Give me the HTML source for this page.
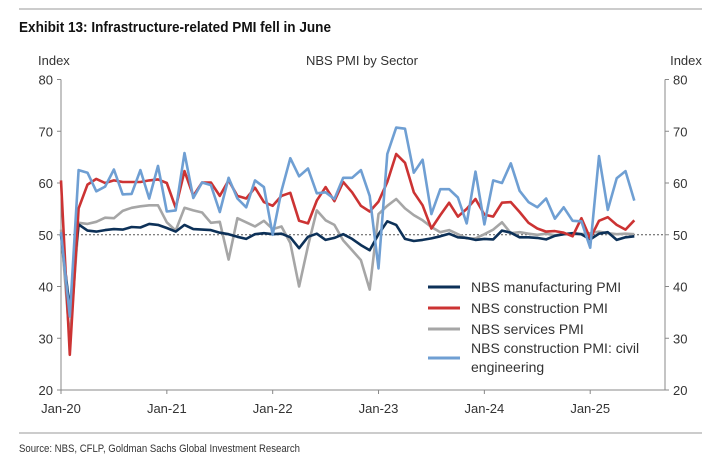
<!DOCTYPE html>
<html><head><meta charset="utf-8"><style>
html,body{margin:0;padding:0;background:#fff;width:720px;height:460px;overflow:hidden}
svg{display:block;font-family:"Liberation Sans",Arial,sans-serif}
</style></head><body>
<svg id="c" width="720" height="460" viewBox="0 0 720 460">
<line x1="19" y1="9" x2="702" y2="9" stroke="#999" stroke-width="1"/>
<text x="19" y="32" font-size="14.5" font-weight="bold" fill="#111" textLength="312" lengthAdjust="spacingAndGlyphs">Exhibit 13: Infrastructure-related PMI fell in June</text>
<text x="38" y="65" font-size="13" fill="#333">Index</text>
<text x="686" y="65" font-size="13" fill="#333" text-anchor="middle">Index</text>
<text x="362" y="65" font-size="13" fill="#333" text-anchor="middle">NBS PMI by Sector</text>
<g id="axes"></g>
<g id="series"></g>
<g id="legend"></g>
<line x1="19" y1="433" x2="702" y2="433" stroke="#999" stroke-width="1"/>
<text x="19" y="452" font-size="11" fill="#333" textLength="281" lengthAdjust="spacingAndGlyphs">Source: NBS, CFLP, Goldman Sachs Global Investment Research</text>
</svg>
<script>
const yTicks=[20,30,40,50,60,70,80];
const xTickLabels=["Jan-20","Jan-21","Jan-22","Jan-23","Jan-24","Jan-25"];
const xTickMonths=[0,12,24,36,48,60];
const manufacturing=[50.0,35.7,52.0,50.8,50.6,50.9,51.1,51.0,51.5,51.4,52.1,51.9,51.3,50.6,51.9,51.1,51.0,50.9,50.4,50.1,49.6,49.2,50.1,50.3,50.1,50.2,49.5,47.4,49.6,50.2,49.0,49.4,50.1,49.2,48.0,47.0,50.1,52.6,51.9,49.2,48.8,49.0,49.3,49.7,50.2,49.5,49.4,49.0,49.2,49.1,50.8,50.4,49.5,49.5,49.4,49.1,49.8,50.1,50.3,50.1,49.1,50.2,50.5,49.0,49.5,49.7];
const construction=[60.5,26.8,55.1,59.7,60.8,60.0,60.5,60.2,60.2,60.2,60.5,60.7,60.0,55.2,62.3,57.5,60.1,60.1,57.5,60.5,57.5,57.0,59.1,56.3,55.6,57.5,58.1,52.7,52.2,56.6,59.2,56.5,60.2,58.2,55.6,54.5,56.4,60.2,65.6,63.9,58.2,55.7,51.2,53.8,56.2,53.5,55.0,56.9,53.9,53.5,56.2,56.3,54.4,52.3,51.2,50.6,50.7,50.4,49.7,53.2,49.3,52.7,53.4,51.9,51.0,52.8];
const services=[51.0,29.6,52.3,52.1,52.5,53.3,53.2,54.6,55.2,55.5,55.7,55.7,52.4,50.8,55.2,54.7,54.3,52.3,52.5,45.2,53.2,52.4,51.6,52.7,51.1,51.6,48.4,40.0,47.8,54.7,52.8,51.9,48.9,47.0,45.1,39.4,54.0,55.6,56.9,55.1,53.8,52.8,51.5,50.5,50.9,50.1,49.3,49.3,50.1,51.0,52.4,50.3,50.5,50.2,50.0,50.2,49.9,50.1,50.1,50.1,50.3,50.6,50.3,50.1,50.2,50.1];
const civilEng=[50.5,34.2,62.5,62.0,58.4,59.3,62.6,57.8,57.9,62.5,57.0,63.3,54.5,54.7,65.8,57.1,60.1,59.6,54.4,61.0,57.0,55.3,60.5,59.2,50.0,58.5,64.8,61.3,62.8,58.0,58.2,56.9,61.0,61.0,62.5,57.5,43.5,65.6,70.7,70.5,62.0,64.5,54.0,58.8,58.8,57.2,52.2,62.2,52.0,60.5,60.0,63.8,58.5,56.3,55.3,57.0,53.1,55.3,52.7,52.6,47.5,65.2,54.8,60.9,62.3,56.6];
const seriesNames=["NBS manufacturing PMI","NBS construction PMI","NBS services PMI","NBS construction PMI: civil engineering"];
const NS="http://www.w3.org/2000/svg";
const X0=61,X1=665,Y80=79.5,Y20=390;
function xS(m){return X0+m*8.82;}
function yS(v){return Y20-(v-20)*(Y20-Y80)/60;}
function mk(t,a,p){const e=document.createElementNS(NS,t);for(const k in a)e.setAttribute(k,a[k]);p.appendChild(e);return e;}
const ax=document.getElementById('axes');
let e=mk('line',{x1:X0,y1:Y80,x2:X0,y2:Y20,stroke:'#888','stroke-width':1},ax);


e=mk('line',{x1:X1,y1:Y80,x2:X1,y2:Y20,stroke:'#888','stroke-width':1},ax);


e=mk('line',{x1:X0,y1:Y20,x2:X1,y2:Y20,stroke:'#888','stroke-width':1},ax);


e=mk('line',{x1:X0,y1:yS(50),x2:X1,y2:yS(50),stroke:'#555','stroke-width':1,'stroke-dasharray':'2,2'},ax);


yTicks.forEach(v=>{
 const y=yS(v);
 mk('line',{x1:X0-4,y1:y,x2:X0,y2:y,stroke:'#888'},ax);
 mk('line',{x1:X1,y1:y,x2:X1+4,y2:y,stroke:'#888'},ax);
 let t=mk('text',{x:X0-8,y:y+5,'font-size':13,fill:'#333','text-anchor':'end'},ax);t.textContent=v;
 
 
 t=mk('text',{x:X1+8,y:y+5,'font-size':13,fill:'#333'},ax);t.textContent=v;
 
 
});
xTickMonths.forEach((m,i)=>{
 const x=xS(m);
 mk('line',{x1:x,y1:Y20,x2:x,y2:Y20+4,stroke:'#888'},ax);
 const t=mk('text',{x:x,y:413,'font-size':13,fill:'#333','text-anchor':'middle'},ax);t.textContent=xTickLabels[i];
 
 
});
const sg=document.getElementById('series');
const defs=[[services,'#a6a6a6','services-line'],[manufacturing,'#0d3158','manufacturing-line'],[construction,'#cc3333','construction-line'],[civilEng,'#6f9fd3','civil-engineering-line']];
defs.forEach(d=>{
 const pts=d[0].map((v,i)=>xS(i).toFixed(1)+','+yS(v).toFixed(1)).join(' ');
 const p=mk('polyline',{points:pts,fill:'none',stroke:d[1],'stroke-width':2.6,'stroke-linejoin':'round'},sg);
 
 
});
const lg=document.getElementById('legend');
const lc=['#0d3158','#cc3333','#a6a6a6','#6f9fd3'];
const ly=[287,308,329,358];
seriesNames.forEach((n,i)=>{
 const g=mk('g',{},lg);
 
 
 mk('line',{x1:428,y1:ly[i],x2:460,y2:ly[i],stroke:lc[i],'stroke-width':3},g);
 if(i<3){const t=mk('text',{x:471,y:ly[i]+5,'font-size':14,fill:'#333'},g);t.textContent=n;}
 else{let t=mk('text',{x:471,y:ly[i]-5,'font-size':14,fill:'#333'},g);t.textContent="NBS construction PMI: civil";
  t=mk('text',{x:471,y:ly[i]+14,'font-size':14,fill:'#333'},g);t.textContent="engineering";}
});
</script>
</body></html>
